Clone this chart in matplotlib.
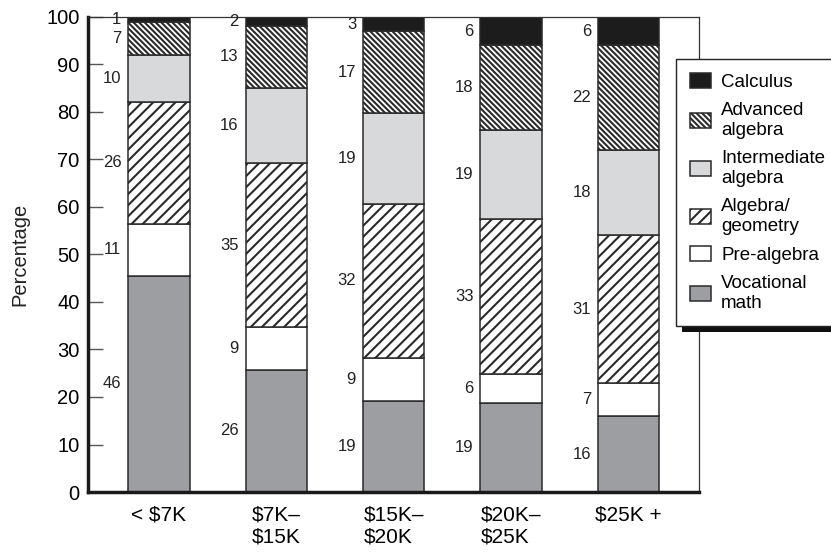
import matplotlib
matplotlib.use('Agg')
import matplotlib.pyplot as plt
import numpy as np
from matplotlib.patches import Rectangle

plt.rcParams['font.family'] = 'Liberation Sans'
plt.rcParams['text.parse_math'] = False
plt.rcParams['hatch.linewidth'] = 1.5

# family income groups and highest math course taken (percent)
groups = ['< $7K', '$7K–\n$15K', '$15K–\n$20K', '$20K–\n$25K', '$25K +']
courses = ['Vocational\nmath', 'Pre-algebra', 'Algebra/\ngeometry',
           'Intermediate\nalgebra', 'Advanced\nalgebra', 'Calculus']
vocational = [46, 26, 19, 19, 16]
pre_algebra = [11, 9, 9, 6, 7]
alg_geometry = [26, 35, 32, 33, 31]
intermediate = [10, 16, 19, 19, 18]
advanced = [7, 13, 17, 18, 22]
calculus = [1, 2, 3, 6, 6]

fills = ['#9d9ea2', 'white', 'white', '#d8d9db', 'white', '#1c1c1c']
hatches = [None, None, '///', None, '\\' * 6, None]

table = np.array([vocational, pre_algebra, alg_geometry,
                  intermediate, advanced, calculus], dtype=float)
# rounded percentages don't always add to 100, so stack the shares
shares = table / table.sum(axis=0) * 100

fig = plt.figure(figsize=(8.31, 5.53), dpi=100)
ax = fig.add_axes([0.1059, 0.1103, 0.7353, 0.859])

x = np.arange(len(groups))
width = 0.523
bottom = np.zeros(len(groups))
handles = []
for i in range(len(courses)):
    bars = ax.bar(x, shares[i], width, bottom=bottom, color=fills[i],
                  hatch=hatches[i], edgecolor='#2a2a2a', linewidth=1.1,
                  label=courses[i], zorder=2)
    handles.append(bars)
    for xi, b, h, v in zip(x, bottom, shares[i], table[i]):
        ax.annotate(f'{v:g}', (xi - width / 2, b + h / 2), xytext=(-5, 0),
                    textcoords='offset points', ha='right', va='center',
                    fontsize=12, color='#222222')
    bottom += shares[i]

ax.set_xlim(-0.604, 4.6)
ax.set_ylim(0, 100)
ax.set_yticks(np.arange(0, 101, 10))
ax.set_xticks(x)
ax.set_xticklabels(groups, fontsize=15, multialignment='left')
ax.tick_params(axis='y', direction='in', length=11, width=1.0,
               color='#555555', labelsize=14.5, pad=6)
ax.tick_params(axis='x', length=0, pad=10)
ax.set_ylabel('Percentage', fontsize=14.5, labelpad=12, color='#222222')

for side in ['left', 'bottom']:
    ax.spines[side].set_linewidth(2.5)
    ax.spines[side].set_color('#1a1a1a')
for side in ['top', 'right']:
    ax.spines[side].set_linewidth(0.9)
    ax.spines[side].set_color('#333333')

leg = fig.legend(handles[::-1], courses[::-1], loc='upper left',
                 bbox_to_anchor=(0.8135, 0.893), fontsize=13.5, frameon=True,
                 fancybox=False, edgecolor='#222222', framealpha=1,
                 borderaxespad=0, handlelength=1.1, handleheight=0.85,
                 handletextpad=0.55, labelspacing=0.6, borderpad=0.75)
leg.get_frame().set_linewidth(1.0)

# solid drop shadow on the lower right of the legend box
fig.canvas.draw()
bb = leg.get_window_extent().transformed(fig.transFigure.inverted())
shadow = Rectangle((bb.x0 + 6 / 831, bb.y0 - 6 / 553), bb.width, bb.height,
                   transform=fig.transFigure, facecolor='#111111',
                   edgecolor='none', zorder=4.5)
fig.add_artist(shadow)

fig.savefig('out.png', dpi=100)
